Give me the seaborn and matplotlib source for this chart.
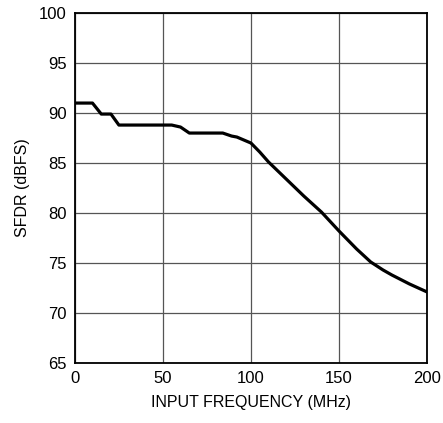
import matplotlib
matplotlib.use('Agg')
import matplotlib.pyplot as plt
import seaborn as sns
import pandas as pd

# Data
freq_mhz = [0, 10, 15, 20.5, 25, 55, 60, 65, 84, 89, 92, 100, 105, 110, 120, 130, 140, 150, 160, 168, 175, 180, 190, 200]
sfdr_dbfs = [91.0, 91.0, 89.9, 89.9, 88.8, 88.8, 88.6, 88.0, 88.0, 87.7, 87.6, 87.0, 86.1, 85.1, 83.4, 81.7, 80.1, 78.2, 76.4, 75.1, 74.3, 73.8, 72.9, 72.1]
x_ticks = [0, 50, 100, 150, 200]
y_ticks = [65, 70, 75, 80, 85, 90, 95, 100]

df = pd.DataFrame({'freq': freq_mhz, 'sfdr': sfdr_dbfs})

sns.set_style('white')
plt.rcParams['font.family'] = ['Liberation Sans', 'DejaVu Sans']
plt.rcParams['text.color'] = 'black'
plt.rcParams['axes.labelcolor'] = 'black'

fig = plt.figure(figsize=(4.43, 4.23), dpi=100)
ax = fig.add_axes([0.169, 0.142, 0.795, 0.827])

sns.lineplot(data=df, x='freq', y='sfdr', color='black', linewidth=2.3, ax=ax, zorder=3)

ax.set_xlim(0, 200)
ax.set_ylim(65, 100)
ax.set_xticks(x_ticks)
ax.set_yticks(y_ticks)
ax.grid(True, color='#555555', linewidth=0.9)
ax.tick_params(length=0, labelsize=12, pad=6, colors='black')
for s in ax.spines.values():
    s.set_color('black')
    s.set_linewidth(1.3)

ax.set_xlabel('INPUT FREQUENCY (MHz)', fontsize=11.5, labelpad=6)
ax.set_ylabel('SFDR (dBFS)', fontsize=11.5, labelpad=6)

fig.savefig('out.png', dpi=100)
